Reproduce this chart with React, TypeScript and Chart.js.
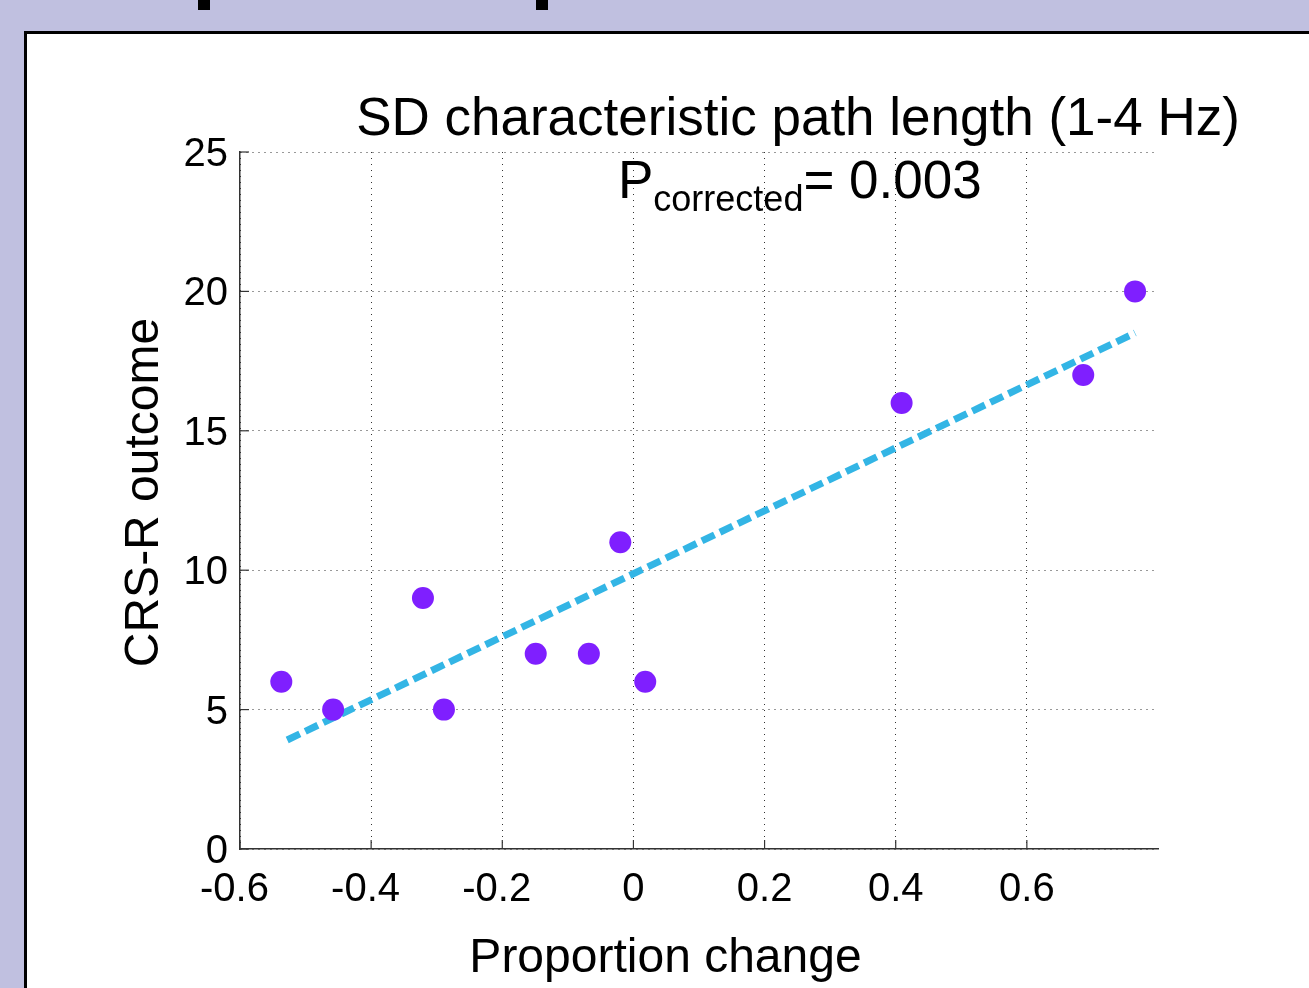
import React, { useEffect, useRef } from "react";
import { Chart, registerables } from "chart.js";

Chart.register(...registerables);

// ---- data ----
const xValues = [-0.537, -0.458, -0.321, -0.289, -0.149, -0.068, -0.02, 0.018, 0.409, 0.686, 0.765];
const yValues = [6, 5, 9, 5, 7, 7, 11, 6, 16, 17, 20];
const fitX = [-0.528, 0.765];
const fitY = [3.91, 18.51];
const xTicks = [-0.6, -0.4, -0.2, 0, 0.2, 0.4, 0.6];
const xTickLabels = ["-0.6", "-0.4", "-0.2", "0", "0.2", "0.4", "0.6"];
const yTicks = [0, 5, 10, 15, 20, 25];
const yTickLabels = ["0", "5", "10", "15", "20", "25"];
const chartTitle = "SD characteristic path length (1-4 Hz)";
const pMain = "P";
const pSub = "corrected";
const pValue = "= 0.003";
const xTitle = "Proportion change";
const yTitle = "CRS-R outcome";

const FONT = "'Liberation Sans', Arial, Helvetica, sans-serif";
const W = 1309;
const H = 988;

const annotationPlugin = {
  id: "annotations",
  afterDraw(chart: any) {
    const ctx = chart.ctx as CanvasRenderingContext2D;
    const xs = chart.scales.x;
    const ys = chart.scales.y;
    const area = chart.chartArea;
    ctx.save();
    // inward tick marks
    ctx.strokeStyle = "#333";
    ctx.lineWidth = 1.2;
    ctx.setLineDash([]);
    xTicks.forEach((v) => {
      const px = xs.getPixelForValue(v);
      ctx.beginPath();
      ctx.moveTo(px, area.bottom);
      ctx.lineTo(px, area.bottom - 9);
      ctx.stroke();
    });
    yTicks.forEach((v) => {
      const py = ys.getPixelForValue(v);
      ctx.beginPath();
      ctx.moveTo(area.left, py);
      ctx.lineTo(area.left + 9, py);
      ctx.stroke();
    });
    ctx.fillStyle = "#000";
    // title
    ctx.textBaseline = "alphabetic";
    ctx.textAlign = "center";
    ctx.font = `53px ${FONT}`;
    ctx.fillText(chartTitle, 798, 135);
    // P corrected text
    ctx.textAlign = "left";
    let x = 618;
    ctx.font = `53px ${FONT}`;
    ctx.fillText(pMain, x, 198);
    x += ctx.measureText(pMain).width;
    ctx.font = `36px ${FONT}`;
    ctx.fillText(pSub, x, 211);
    x += ctx.measureText(pSub).width;
    ctx.font = `53px ${FONT}`;
    ctx.fillText(pValue, x, 198);
    // axis titles
    ctx.textAlign = "center";
    ctx.font = `48px ${FONT}`;
    ctx.fillText(xTitle, 665.5, 972);
    ctx.save();
    ctx.translate(158, 492.5);
    ctx.rotate(-Math.PI / 2);
    ctx.fillText(yTitle, 0, 0);
    ctx.restore();
    ctx.restore();
  },
};

export default function App() {
  const canvasRef = useRef<HTMLCanvasElement | null>(null);

  useEffect(() => {
    const canvas = canvasRef.current;
    if (!canvas) return;
    const chart = new Chart(canvas, {
      type: "scatter",
      data: {
        datasets: [
          {
            label: "Patients",
            data: xValues.map((x, i) => ({ x, y: yValues[i] })),
            backgroundColor: "#7f1fff",
            borderWidth: 0,
            pointRadius: 11,
            pointHoverRadius: 11,
          },
          {
            label: "Fit",
            data: fitX.map((x, i) => ({ x, y: fitY[i] })),
            showLine: true,
            borderColor: "#33b5e5",
            borderWidth: 7,
            borderDash: [14, 6],
            pointRadius: 0,
            fill: false,
          } as any,
        ],
      },
      options: {
        animation: false,
        responsive: false,
        maintainAspectRatio: false,
        events: [],
        layout: { padding: { left: 0, top: 152, right: 151, bottom: 0 } },
        plugins: {
          legend: { display: false },
          tooltip: { enabled: false },
          title: { display: false },
        },
        scales: {
          x: {
            type: "linear",
            min: -0.6,
            max: 0.8,
            afterBuildTicks: (scale: any) => {
              scale.ticks = xTicks.map((v) => ({ value: v }));
            },
            afterFit: (scale: any) => {
              scale.height = H - 849;
            },
            ticks: {
              callback: (value: any) => {
                const i = xTicks.findIndex((t) => Math.abs(t - Number(value)) < 1e-9);
                if (i < 0) return "";
                // MATLAB centres the digits, letting the minus sign hang to the left
                return xTicks[i] < 0 ? xTickLabels[i] + " " : xTickLabels[i];
              },
              font: { family: FONT, size: 40 },
              color: "#000",
              padding: 17,
              maxRotation: 0,
              autoSkip: false,
            },
            grid: {
              color: "#333",
              lineWidth: 1,
              drawTicks: false,
            },
            border: { display: true, color: "#333", width: 1.5, dash: [1, 5] },
          },
          y: {
            type: "linear",
            min: 0,
            max: 25,
            afterBuildTicks: (scale: any) => {
              scale.ticks = yTicks.map((v) => ({ value: v }));
            },
            afterFit: (scale: any) => {
              scale.width = 240;
            },
            ticks: {
              callback: (value: any) => {
                const i = yTicks.findIndex((t) => Math.abs(t - Number(value)) < 1e-9);
                return i >= 0 ? yTickLabels[i] : "";
              },
              font: { family: FONT, size: 40 },
              color: "#000",
              padding: 12,
              labelOffset: 3,
              autoSkip: false,
            },
            grid: {
              color: "#333",
              lineWidth: 1,
              drawTicks: false,
            },
            border: { display: true, color: "#333", width: 1.5, dash: [1, 5] },
          },
        },
      } as any,
      plugins: [annotationPlugin],
    });
    return () => chart.destroy();
  }, []);

  return (
    <div
      style={{
        position: "fixed",
        left: 0,
        top: 0,
        width: W,
        height: H,
        background: "#c0c0e0",
        overflow: "hidden",
      }}
    >
      <div style={{ position: "absolute", left: 198, top: 0, width: 12, height: 10, background: "#000" }} />
      <div style={{ position: "absolute", left: 536, top: 0, width: 12, height: 10, background: "#000" }} />
      <div
        style={{
          position: "absolute",
          left: 24,
          top: 31,
          width: W,
          height: H,
          background: "#fff",
          borderTop: "3px solid #000",
          borderLeft: "3px solid #000",
        }}
      />
      <canvas
        ref={canvasRef}
        width={W}
        height={H}
        style={{ position: "absolute", left: 0, top: 0, width: W, height: H }}
      />
    </div>
  );
}
